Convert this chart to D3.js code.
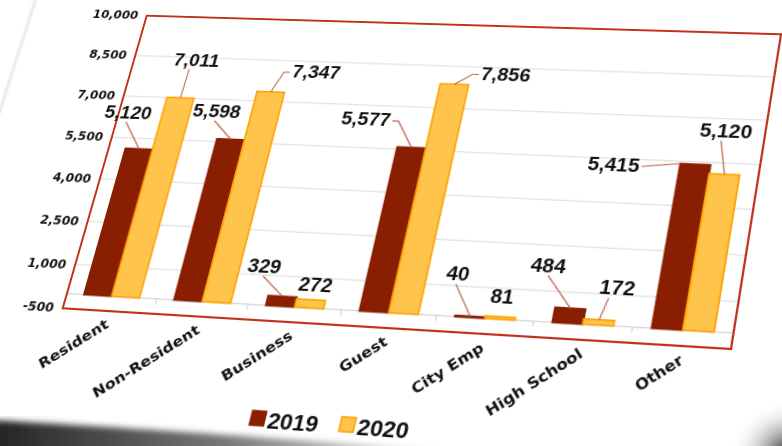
<!DOCTYPE html>
<html>
<head>
<meta charset="utf-8">
<script src="https://cdn.jsdelivr.net/npm/d3@7"></script>
<style>
  html, body { margin: 0; padding: 0; background: #fff; width: 782px; height: 446px; overflow: hidden; }
  #sheet { position: absolute; left: 0; top: 0; transform-origin: 0 0; }
  #page { position: absolute; left: 0; top: 0; z-index: 2; }
</style>
</head>
<body>
<div id="sheet"></div>
<svg id="page" width="782" height="446"></svg>
<script>
// ---- data ----
const categories = ["Resident", "Non-Resident", "Business", "Guest", "City Emp", "High School", "Other"];
const seriesNames = ["2019", "2020"];
const values2019 = [5120, 5598, 329, 5577, 40, 484, 5415];
const values2020 = [7011, 7347, 272, 7856, 81, 172, 5120];
const yTicks = [-500, 1000, 2500, 4000, 5500, 7000, 8500, 10000];
const yDomain = [-500, 10000];

// ---- styling / layout ----
const fills = ["#8a1e00", "#ffc44c"];
const strokes = ["#8a1e00", "#ffa200"];
// data-label placement relative to the top of each bar (flat chart units)
const labelOffsets2019 = [[-21, -37], [-21, -28], [-24, -28], [-50, -27], [-19, -39], [-27, -39], [-74, 3]];
const labelOffsets2020 = [[6, -40], [40, -22], [1, -15], [47, -12], [-2, -19], [11, -30], [-5, -42]];

const FW = 900, FH = 480;                 // flat sheet size
const PX = 170, PY = 30, PW = 620, PH = 300; // plot area on the flat sheet
// where the plot area's corners land on the tilted sheet (TL, TR, BR, BL)
const frameCorners = [[146.7, 15.7], [781, 34.3], [731, 349], [62.7, 308.3]];

// ---- perspective of the sheet ----
function squareToQuad(p) {
  const [x0, y0] = p[0], [x1, y1] = p[1], [x2, y2] = p[2], [x3, y3] = p[3];
  const sx = x0 - x1 + x2 - x3, sy = y0 - y1 + y2 - y3;
  const dx1 = x1 - x2, dx2 = x3 - x2, dy1 = y1 - y2, dy2 = y3 - y2;
  const det = dx1 * dy2 - dx2 * dy1;
  const g = (sx * dy2 - dx2 * sy) / det, h = (dx1 * sy - sx * dy1) / det;
  return { a: x1 - x0 + g * x1, b: x3 - x0 + h * x3, c: x0,
           d: y1 - y0 + g * y1, e: y3 - y0 + h * y3, f: y0, g, h };
}
const q = squareToQuad(frameCorners);
const A = q.a / PW, B = q.b / PH, C = q.c - q.a * PX / PW - q.b * PY / PH;
const D = q.d / PW, E = q.e / PH, F = q.f - q.d * PX / PW - q.e * PY / PH;
const G = q.g / PW, Hh = q.h / PH, I = 1 - q.g * PX / PW - q.h * PY / PH;
const m = [A, D, 0, G, B, E, 0, Hh, 0, 0, 1, 0, C, F, 0, I].map(v => v / I);

const sheet = d3.select("#sheet")
  .style("width", FW + "px").style("height", FH + "px")
  .style("transform", `matrix3d(${m.join(",")})`);

const svg = sheet.append("svg").attr("width", FW).attr("height", FH)
  .style("font-family", "'Liberation Sans', Arial, sans-serif");

const fmt = d3.formatLocale({ decimal: ".", thousands: ",", grouping: [3], currency: ["$", ""], minus: "-" }).format(",");

// ---- scales ----
const x = d3.scaleBand().domain(categories).range([PX, PX + PW]).paddingInner(0.38).paddingOuter(0.19);
const xs = d3.scaleBand().domain(seriesNames).range([0, x.bandwidth()]);
const y = d3.scaleLinear().domain(yDomain).range([PY + PH, PY]);

// gridlines
svg.append("g").selectAll("line").data(yTicks.slice(0, -1)).join("line")
  .attr("x1", PX).attr("x2", PX + PW)
  .attr("y1", d => y(d)).attr("y2", d => y(d))
  .attr("stroke", "#e2e2e2").attr("stroke-width", 1.2);

// category axis at zero, with ticks between categories
svg.append("line").attr("x1", PX).attr("x2", PX + PW).attr("y1", y(0)).attr("y2", y(0))
  .attr("stroke", "#d6d6d6").attr("stroke-width", 1.2);
const step = x.step();
svg.append("g").selectAll("line").data(d3.range(1, categories.length)).join("line")
  .attr("x1", i => PX + i * step).attr("x2", i => PX + i * step)
  .attr("y1", y(0)).attr("y2", y(0) + 5)
  .attr("stroke", "#d6d6d6").attr("stroke-width", 1.2);

// value axis labels
const yAxis = svg.append("g").attr("transform", `translate(${PX - 9},0)`)
  .call(d3.axisLeft(y).tickValues(yTicks).tickFormat(fmt).tickSize(0).tickPadding(0));
yAxis.select(".domain").remove();
yAxis.selectAll("text")
  .attr("font-family", "'DejaVu Sans', sans-serif").attr("font-weight", "bold")
  .attr("font-size", 12.3).attr("fill", "#111");

// category labels
const xAxis = svg.append("g").attr("transform", `translate(0,${PY + PH})`)
  .call(d3.axisBottom(x).tickSize(0));
xAxis.select(".domain").remove();
xAxis.selectAll("text")
  .attr("y", 0).attr("dy", "0.35em")
  .attr("transform", "translate(3,11) rotate(-39)")
  .attr("text-anchor", "end")
  .attr("font-family", "'DejaVu Sans', sans-serif").attr("font-weight", "bold")
  .attr("font-size", 14).attr("fill", "#111");

// bars
const series = [values2019, values2020];
const offsets = [labelOffsets2019, labelOffsets2020];
const bars = svg.append("g");
series.forEach((vals, s) => {
  bars.append("g").selectAll("rect").data(vals).join("rect")
    .attr("x", (d, i) => x(categories[i]) + xs(seriesNames[s]))
    .attr("width", xs.bandwidth())
    .attr("y", d => y(d))
    .attr("height", d => y(0) - y(d))
    .attr("fill", fills[s]).attr("stroke", strokes[s]).attr("stroke-width", 1.6);
});

// plot border
svg.append("rect").attr("x", PX).attr("y", PY).attr("width", PW).attr("height", PH)
  .attr("fill", "none").attr("stroke", "#c0321a").attr("stroke-width", 2);

// data labels with leader lines
const labels = svg.append("g");
series.forEach((vals, s) => {
  vals.forEach((v, i) => {
    const bx = x(categories[i]) + xs(seriesNames[s]) + xs.bandwidth() / 2;
    const by = y(v);
    const [ox, oy] = offsets[s][i];
    const t = labels.append("text")
      .attr("x", bx + ox).attr("y", by + oy).attr("dy", "0.35em")
      .attr("text-anchor", "middle")
      .attr("font-weight", "bold").attr("font-size", 19).attr("fill", "#111")
      .text(fmt(v));
    const bb = t.node().getBBox();
    const l = bb.x - 2, r = bb.x + bb.width + 2, tp = bb.y + 3, bt = bb.y + bb.height - 1;
    let pts;
    if (bx > r + 12 || bx < l - 12) {
      // label sits beside the bar: short horizontal stub, then down to the bar top
      const sx = bx > r ? r : l;
      const stub = bx > r ? 6 : -6;
      const sy = (tp + bt) / 2;
      pts = (Math.abs(by - sy) < 6) ? [[sx, sy], [bx - (bx > r ? xs.bandwidth() / 2 : -xs.bandwidth() / 2), by]]
                                     : [[sx, sy], [sx + stub, sy], [bx, by]];
    } else {
      pts = [[bb.x + bb.width / 2 + (bx - (bb.x + bb.width / 2)) * 0.2 - 4, bt], [bx, by]];
    }
    const last = pts[pts.length - 1], first = pts[0];
    if (Math.hypot(last[0] - first[0], last[1] - first[1]) > 14) {
      labels.append("polyline").attr("points", pts.map(p => p.join(",")).join(" "))
        .attr("fill", "none").attr("stroke", "#c0604a").attr("stroke-width", 1.1);
    }
  });
});

// legend
const legend = svg.append("g").attr("transform", `translate(${PX + 0.45 * PW},${PY + 1.30 * PH})`);
const items = legend.selectAll("g").data(seriesNames).join("g");
items.append("rect").attr("width", 13).attr("height", 13).attr("y", -7)
  .attr("fill", (d, i) => fills[i]).attr("stroke", (d, i) => strokes[i]).attr("stroke-width", 1.5);
items.append("text").attr("x", 16).attr("dy", "0.36em")
  .attr("font-weight", "bold").attr("font-size", 21).attr("fill", "#111").text(d => d);
const widths = [];
items.each(function () { widths.push(this.getBBox().width); });
const total = d3.sum(widths) + 20 * (widths.length - 1);
items.attr("transform", (d, i) => {
  const tx = -total / 2 + d3.sum(widths.slice(0, i)) + 20 * i;
  return `translate(${tx},0)`;
});

// ---- page edges around the sheet ----
const page = d3.select("#page");
const defs = page.append("defs");
defs.append("filter").attr("id", "soft").append("feGaussianBlur").attr("stdDeviation", 3);
defs.append("filter").attr("id", "soft1").append("feGaussianBlur").attr("stdDeviation", 0.8);
const gl = defs.append("linearGradient").attr("id", "shadeL").attr("x1", 0).attr("x2", 1).attr("y1", 0).attr("y2", 0);
gl.append("stop").attr("offset", 0).attr("stop-color", "#222");
gl.append("stop").attr("offset", 0.5).attr("stop-color", "#777");
gl.append("stop").attr("offset", 1).attr("stop-color", "#fff");
const gr = defs.append("radialGradient").attr("id", "shadeR").attr("cx", 1).attr("cy", 1).attr("r", 1);
gr.append("stop").attr("offset", 0).attr("stop-color", "#111");
gr.append("stop").attr("offset", 1).attr("stop-color", "#fff").attr("stop-opacity", 0);

page.append("path").attr("d", "M-10,420 C100,426 250,436 460,452 L-10,460 Z")
  .attr("fill", "url(#shadeL)").attr("filter", "url(#soft)");
page.append("rect").attr("x", 730).attr("y", 400).attr("width", 60).attr("height", 55)
  .attr("fill", "url(#shadeR)");
page.append("line").attr("x1", 36).attr("y1", -2).attr("x2", -1).attr("y2", 114)
  .attr("stroke", "#d4d4d4").attr("stroke-width", 1.4).attr("filter", "url(#soft1)");
</script>
</body>
</html>
